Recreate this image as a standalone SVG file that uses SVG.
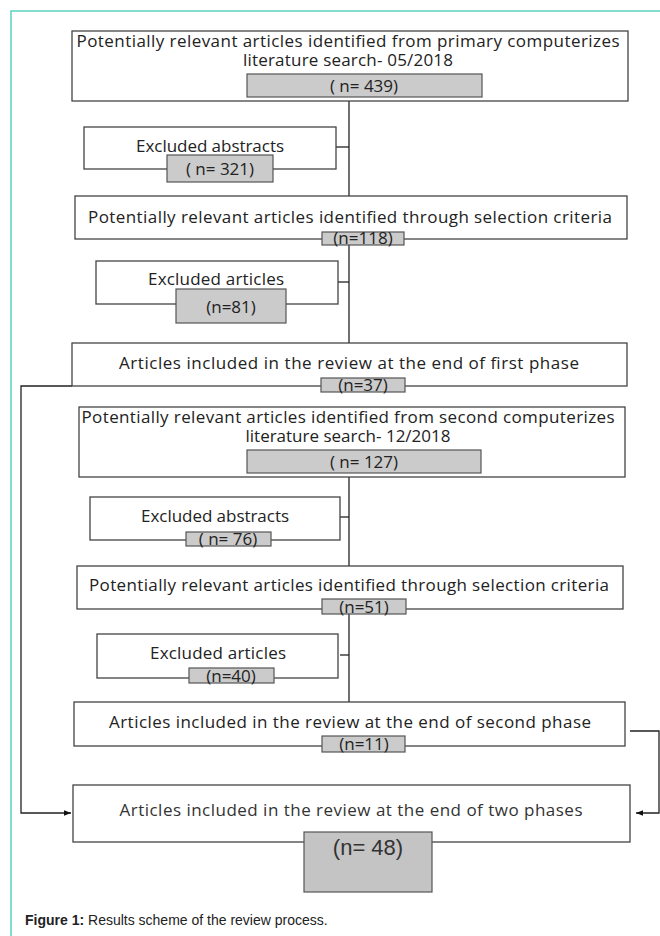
<svg xmlns="http://www.w3.org/2000/svg" width="660" height="936" viewBox="0 0 660 936">
<style>
.box{fill:#fff;stroke:#444;stroke-width:1.3}
.gbox{fill:#cbcbcb;stroke:#555;stroke-width:1.2}
.t{font-family:"Open Sans",Lato,sans-serif;font-size:17px;fill:#222;text-anchor:middle}
.ln{fill:none;stroke:#222;stroke-width:1.3}
.cap{font-family:"Liberation Sans",Arial,sans-serif;font-size:14px;fill:#222}
</style>
<defs>
<marker id="ah" viewBox="0 0 10 10" refX="10" refY="5" markerWidth="7" markerHeight="7" orient="auto" markerUnits="userSpaceOnUse"><path d="M0,1 L10,5 L0,9 Z" fill="#111"/></marker>
</defs>
<rect width="660" height="936" fill="#fff"/>
<path d="M11,936 V11 H660" fill="none" stroke="#5ad2c2" stroke-width="1.5"/>
<g id="connectors">
<path class="ln" d="M349,101 V343"/>
<path class="ln" d="M336,147 H349"/>
<path class="ln" d="M338,282 H349"/>
<path class="ln" d="M349,476 V702"/>
<path class="ln" d="M340,517 H349"/>
<path class="ln" d="M340,655 H349"/>
<path class="ln" d="M72,386 H21 V813 H71" marker-end="url(#ah)"/>
<path class="ln" d="M630,731 H659 V813 H636" marker-end="url(#ah)"/>
</g>
<g id="n1">
<rect class="box" x="72" y="31" width="556" height="70"/>
<text class="t" x="348" y="47" textLength="543">Potentially relevant articles identified from primary computerizes</text>
<text class="t" x="348" y="66" textLength="210">literature search- 05/2018</text>
<rect class="gbox" x="247" y="74" width="235" height="23"/>
<text class="t" x="364" y="92">( n= 439)</text>
</g>
<g id="n2">
<rect class="box" x="84" y="127" width="252" height="42"/>
<text class="t" x="210" y="152" textLength="148">Excluded abstracts</text>
<rect class="gbox" x="167" y="155" width="106" height="27"/>
<text class="t" x="220" y="175">( n= 321)</text>
</g>
<g id="n3">
<rect class="box" x="75" y="196" width="552" height="43"/>
<text class="t" x="350" y="223" textLength="524">Potentially relevant articles identified through selection criteria</text>
<rect class="gbox" x="322" y="232" width="82" height="13"/>
<text class="t" x="363" y="244">(n=118)</text>
</g>
<g id="n4">
<rect class="box" x="96" y="261" width="242" height="43"/>
<text class="t" x="216" y="285" textLength="136">Excluded articles</text>
<rect class="gbox" x="176" y="289" width="110" height="34"/>
<text class="t" x="231" y="313">(n=81)</text>
</g>
<g id="n5">
<rect class="box" x="72" y="343" width="555" height="43"/>
<text class="t" x="349" y="369" textLength="460">Articles included in the review at the end of first phase</text>
<rect class="gbox" x="321" y="378" width="84" height="14"/>
<text class="t" x="363" y="391">(n=37)</text>
</g>
<g id="n6">
<rect class="box" x="79" y="407" width="546" height="70"/>
<text class="t" x="348" y="423" textLength="533">Potentially relevant articles identified from second computerizes</text>
<text class="t" x="348" y="442" textLength="205">literature search- 12/2018</text>
<rect class="gbox" x="247" y="450" width="234" height="23"/>
<text class="t" x="364" y="468">( n= 127)</text>
</g>
<g id="n7">
<rect class="box" x="90" y="497" width="250" height="43"/>
<text class="t" x="215" y="522" textLength="148">Excluded abstracts</text>
<rect class="gbox" x="186" y="532" width="85" height="14"/>
<text class="t" x="228" y="545">( n= 76)</text>
</g>
<g id="n8">
<rect class="box" x="77" y="566" width="546" height="43"/>
<text class="t" x="349" y="591" textLength="520">Potentially relevant articles identified through selection criteria</text>
<rect class="gbox" x="322" y="599" width="84" height="15"/>
<text class="t" x="364" y="613">(n=51)</text>
</g>
<g id="n9">
<rect class="box" x="97" y="634" width="241" height="44"/>
<text class="t" x="218" y="659" textLength="136">Excluded articles</text>
<rect class="gbox" x="189" y="668" width="85" height="15"/>
<text class="t" x="231" y="682">(n=40)</text>
</g>
<g id="n10">
<rect class="box" x="74" y="702" width="551" height="44"/>
<text class="t" x="350" y="728" textLength="482">Articles included in the review at the end of second phase</text>
<rect class="gbox" x="322" y="736" width="83" height="16"/>
<text class="t" x="364" y="750">(n=11)</text>
</g>
<g id="n11">
<rect class="box" x="73" y="785" width="557" height="57"/>
<text class="t" x="351" y="816" textLength="463" style="fill:#333">Articles included in the review at the end of two phases</text>
<rect class="gbox" x="304" y="832" width="128" height="60" style="fill:#c4c4c4"/>
<text class="t" x="368" y="855" style="font-size:22px;font-family:'Liberation Sans',Arial,sans-serif;fill:#333">(n= 48)</text>
</g>
<text class="cap" x="25" y="925"><tspan font-weight="bold">Figure 1:</tspan> Results scheme of the review process.</text>
</svg>
